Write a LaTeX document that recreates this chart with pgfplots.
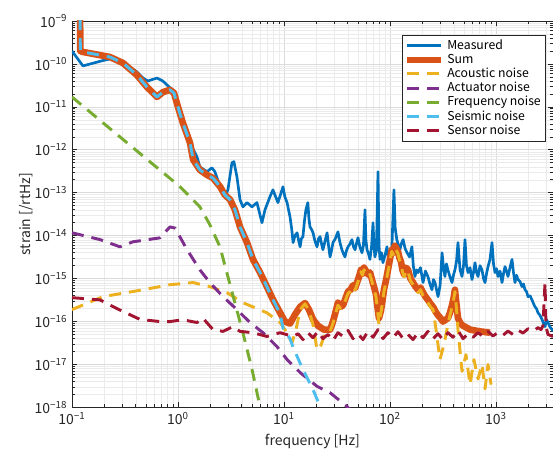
\documentclass[border=0pt]{standalone}
\usepackage{fontspec}
\setmainfont{Noto Sans CJK JP}
\newfontfamily\minusfont{Noto Sans}
\newcommand{\mm}{{\minusfont −}}
\usepackage{pgfplots}
\pgfplotsset{compat=1.18}
\definecolor{mblue}{rgb}{0,0.447,0.741}
\definecolor{morange}{rgb}{0.85,0.325,0.098}
\definecolor{myellow}{rgb}{0.929,0.694,0.125}
\definecolor{mpurple}{rgb}{0.494,0.184,0.556}
\definecolor{mgreen}{rgb}{0.466,0.674,0.188}
\definecolor{mcyan}{rgb}{0.301,0.745,0.933}
\definecolor{mred}{rgb}{0.635,0.078,0.184}
\definecolor{maxis}{rgb}{0.15,0.15,0.15}
\begin{document}
\begin{tikzpicture}
\begin{axis}[
  xmode=log, ymode=log,
  scale only axis, width=361pt, height=290pt,
  xmin=0.1, xmax=3450, ymin=1e-18, ymax=1e-9,
  xtick={0.1,1,10,100,1000},
  xticklabels={10\textsuperscript{\mm1},10\textsuperscript{0},10\textsuperscript{1},10\textsuperscript{2},10\textsuperscript{3}},
  minor xtick={0.2,0.3,0.4,0.5,0.6,0.7,0.8,0.9,2,3,4,5,6,7,8,9,20,30,40,50,60,70,80,90,200,300,400,500,600,700,800,900,2000,3000},
  ytick={1e-18,1e-17,1e-16,1e-15,1e-14,1e-13,1e-12,1e-11,1e-10,1e-9},
  yticklabels={10\textsuperscript{\mm18},10\textsuperscript{\mm17},10\textsuperscript{\mm16},10\textsuperscript{\mm15},10\textsuperscript{\mm14},10\textsuperscript{\mm13},10\textsuperscript{\mm12},10\textsuperscript{\mm11},10\textsuperscript{\mm10},10\textsuperscript{\mm9}},
  minor ytick={2e-18,3e-18,4e-18,5e-18,6e-18,7e-18,8e-18,9e-18,
    2e-17,3e-17,4e-17,5e-17,6e-17,7e-17,8e-17,9e-17,
    2e-16,3e-16,4e-16,5e-16,6e-16,7e-16,8e-16,9e-16,
    2e-15,3e-15,4e-15,5e-15,6e-15,7e-15,8e-15,9e-15,
    2e-14,3e-14,4e-14,5e-14,6e-14,7e-14,8e-14,9e-14,
    2e-13,3e-13,4e-13,5e-13,6e-13,7e-13,8e-13,9e-13,
    2e-12,3e-12,4e-12,5e-12,6e-12,7e-12,8e-12,9e-12,
    2e-11,3e-11,4e-11,5e-11,6e-11,7e-11,8e-11,9e-11,
    2e-10,3e-10,4e-10,5e-10,6e-10,7e-10,8e-10,9e-10},
  grid=both,
  major grid style={draw=black!14, line width=0.5pt},
  minor grid style={draw=black!8, line width=0.4pt},
  tick align=inside,
  major tick length=4pt, minor tick length=2.2pt,
  axis line style={maxis, line width=0.5pt},
  tick style={maxis, line width=0.5pt},
  every tick label/.append style={font=\fontsize{10.5}{12}\selectfont, text=maxis},
  xlabel={frequency [Hz]}, ylabel={strain [/rtHz]},
  ylabel shift=-6pt,
  label style={font=\fontsize{10.5}{12}\selectfont, text=maxis},
  legend style={at={(0.985,0.964)}, anchor=north east,
    font=\fontsize{9.2}{11}\selectfont, draw=maxis, fill=white,
    inner sep=1.5pt, row sep=-2pt, line width=0.5pt},
  legend cell align=left,
  legend image code/.code={\draw[#1] (0cm,0cm) -- (0.9cm,0cm);},
  every axis plot/.append style={line join=round},
]
\coordinate (sw) at (rel axis cs:0,0);
\coordinate (ne) at (rel axis cs:1,1);
% Measured
\addplot[mblue, line width=2pt] coordinates {
(0.1,2.0e-10)(0.127,9.0e-11)(0.196,1.2e-10)(0.228,1.3e-10)(0.284,1.1e-10)(0.352,8.5e-11)
(0.41,6.5e-11)(0.468,4.7e-11)(0.52,4.0e-11)(0.634,4.7e-11)(0.72,4.0e-11)(0.84,2.8e-11)
(0.94,2.2e-11)(1.0,1.1e-11)(1.11,4.3e-12)(1.30,1.45e-12)(1.51,6.9e-13)(1.61,4.0e-13)
(1.88,3.1e-13)(2.09,3.8e-13)(2.23,3.1e-13)(2.49,1.38e-13)(2.77,8.1e-14)(2.96,1.17e-13)
(3.23,5.0e-13)(3.37,5.3e-13)(3.60,2.35e-13)(3.85,6.9e-14)(4.10,4.7e-14)(4.48,5.9e-14)
(4.99,4.7e-14)(5.56,5.9e-14)(6.20,2.0e-14)(6.62,4.0e-14)(7.38,8.1e-14)(7.87,1.17e-13)
(8.77,5.9e-14)(9.79,1.38e-13)(10.2,8e-14)(10.7,5.9e-14)(11.0,4.2e-14)(11.4,2.75e-14)
(11.8,1.5e-14)(12.2,6.9e-15)(12.7,1.0e-14)(13.3,1.17e-14)(13.7,8e-15)(14.2,5.5e-15)
(14.6,8.5e-15)(15.1,9.5e-15)(15.6,2.2e-14)(16.1,4.0e-14)(16.8,5.9e-14)(17.2,2.5e-14)
(17.6,1.6e-14)(18.2,1.4e-14)(18.8,1.17e-14)(19.6,7.5e-15)(20.5,5.5e-15)(21.2,8.5e-15)
(21.9,9.5e-15)(22.6,6.5e-15)(23.3,4.7e-15)(24.4,7.5e-15)(25.5,1.17e-14)(26.3,6.0e-15)
(27.2,3.2e-15)(28.1,4.5e-15)(29.0,6.9e-15)(30.5,8.5e-15)(32.3,1.23e-14)(33.7,7.0e-15)
(35.2,4.7e-15)(36.4,3.8e-15)(37.6,3.2e-15)(38.9,4.5e-15)(40.2,5.5e-15)(42.0,6.5e-15)
(43.8,8.1e-15)(45.3,5.5e-15)(46.8,4.7e-15)(48.3,6.5e-15)(49.9,9.0e-15)(52.0,5.5e-15)
(54.4,4.0e-15)(56.2,6.0e-15)(58.1,4.0e-14)(59.3,8e-15)(60.7,4.7e-15)(62.7,3.8e-15)
(64.7,2.8e-15)(67.0,5.5e-15)(69.2,2.0e-14)(70.6,6e-15)(72.1,3.2e-15)(74.5,4.5e-15)
(77.1,3.1e-13)(78.8,6e-15)(80.5,2.8e-15)(83.2,4.0e-15)(85.9,2.35e-15)(89.7,3.5e-15)
(93.7,5.5e-15)(96.8,3.0e-15)(100,1.9e-15)(104,4.5e-15)(109,1.17e-13)(112,1.5e-14)
(116,8.1e-15)(120,6.0e-15)(124,4.7e-15)(128,6.5e-15)(133,8.1e-15)(139,5.0e-15)
(145,4.0e-15)(153,3.2e-15)(161,5.5e-15)(166,2.0e-15)(172,1.12e-15)(178,1.6e-15)
(184,1.38e-15)(194,1.8e-15)(205,8.1e-16)(216,1.5e-15)(228,1.12e-15)(238,7.5e-16)
(249,5.5e-16)(257,9.5e-16)(266,8.1e-16)(275,5.5e-16)(284,3.8e-16)(297,7e-16)
(310,4.0e-15)(320,1.8e-15)(330,1.12e-15)(341,2.2e-15)(352,1.6e-15)(368,1.1e-15)
(385,8.1e-16)(397,1.2e-15)(410,1.6e-15)(424,2.5e-15)(438,6.9e-15)(458,1.6e-15)
(478,1.12e-15)(494,2.0e-15)(510,8.1e-15)(527,2.0e-15)(545,1.38e-15)(569,1.8e-15)
(594,9.5e-16)(614,1.4e-15)(634,2.35e-15)(655,1.4e-15)(677,1.12e-15)(707,2.0e-15)
(738,1.6e-15)(763,1.0e-15)(788,8.1e-16)(814,1.3e-15)(841,1.9e-15)(878,2.8e-15)
(917,6.9e-15)(948,2.2e-15)(979,1.38e-15)(1012,1.7e-15)(1045,1.12e-15)(1092,1.5e-15)
(1140,8.1e-16)(1177,1.3e-15)(1216,1.9e-15)(1257,1.5e-15)(1298,1.12e-15)(1356,1.8e-15)
(1416,2.8e-15)(1462,1.4e-15)(1511,8.1e-16)(1562,1.2e-15)(1614,9.5e-16)(1687,8.5e-16)
(1760,6.5e-16)(1818,7.5e-16)(1878,5.5e-16)(1940,5.0e-16)(2005,3.8e-16)(2094,4.0e-16)
(2187,3.2e-16)(2260,2.6e-16)(2335,2.2e-16)(2410,2.0e-16)(2491,1.6e-16)(2600,1.4e-16)
(2718,1.12e-16)(2810,9e-17)(2900,7.6e-17)(3000,1.1e-16)(3096,9.5e-17)(3230,7.5e-17)
(3377,6.5e-17)(3450,6.0e-17)
};
% Sum
\addplot[morange, line width=5pt] coordinates {
(0.1185,1e-8)(0.120,2.0e-10)(0.127,1.9e-10)(0.228,1.45e-10)(0.303,1.05e-10)(0.41,5.5e-11)
(0.51,2.9e-11)(0.634,1.7e-11)(0.72,2.2e-11)(0.84,2.5e-11)(0.917,2.1e-11)(1.0,1.0e-11)
(1.11,4.3e-12)(1.30,1.45e-12)(1.39,5.9e-13)(1.61,3.4e-13)(1.88,2.6e-13)(2.14,2.2e-13)
(2.49,1.4e-13)(2.77,8.9e-14)(3.1,6.9e-14)(3.45,4.0e-14)(3.85,1.6e-14)(4.48,6.9e-15)
(5.1,2.8e-15)(5.94,1.4e-15)(6.9,6.5e-16)(7.9,3.2e-16)(9.2,1.6e-16)(10.2,1.0e-16)
(11.4,9.0e-17)(12.7,1.45e-16)(14.2,2.2e-16)(15.8,2.7e-16)(17.2,1.9e-16)(18.8,1.12e-16)
(20.9,8.0e-17)(23.8,6.5e-17)(27.2,6.5e-17)(28.4,8.5e-17)(29.6,1.2e-16)(30.9,1.8e-16)
(32.3,2.75e-16)(34.2,2.2e-16)(36.1,2.4e-16)(38.1,3.5e-16)(40.2,5.0e-16)(42.4,5.5e-16)
(44.8,7.0e-16)(46.8,6.0e-16)(48.9,8.1e-16)(51.0,1.1e-15)(53.2,1.6e-15)(55.0,1.3e-15)
(56.9,1.8e-15)(59.4,1.5e-15)(62.0,1.25e-15)(64.8,1.4e-15)(67.6,9.5e-16)(70.6,6.5e-16)
(73.8,4.3e-16)(76.2,2.2e-16)(78.7,1.2e-16)(82.2,1.8e-16)(84.9,3.0e-16)(87.7,5.5e-16)
(91.6,9e-16)(95.7,1.6e-15)(99.8,2.8e-15)(104,4.7e-15)(107,4.0e-15)(111,5.8e-15)
(115,5.0e-15)(119,4.3e-15)(123,3.0e-15)(127,2.5e-15)(131,1.6e-15)(136,1.25e-15)
(142,1.8e-15)(148,1.6e-15)(156,1.0e-15)(165,8.1e-16)(174,6.5e-16)(184,5.5e-16)
(194,6.2e-16)(205,4.7e-16)(216,3.8e-16)(228,3.2e-16)(241,2.6e-16)(255,2.2e-16)
(269,1.7e-16)(284,1.4e-16)(300,1.2e-16)(316,1.0e-16)(334,1.1e-16)(352,1.2e-16)
(368,1.6e-16)(385,2.4e-16)(398,3.5e-16)(410,5.5e-16)(424,2.5e-16)(438,1.2e-16)
(463,9.0e-17)(489,8.0e-17)(569,6.5e-17)(706,5.9e-17)(877,5.5e-17)
};
% Acoustic
\addplot[myellow, line width=2.2pt, dash pattern=on 9pt off 6pt] coordinates {
(0.1,1.9e-16)(0.196,3.8e-16)(0.468,5.5e-16)(0.84,7.2e-16)(1.39,8.1e-16)(2.0,6.5e-16)
(2.9,4.7e-16)(4.1,2.75e-16)(6.9,1.6e-16)(9.2,9.5e-17)(10.2,6.5e-17)(11.9,3.2e-17)
(13.0,6.5e-17)(14.2,1.9e-16)(15.8,2.6e-16)(17.2,1.8e-16)(18.8,8.5e-17)(20.5,2.2e-17)
(22.3,2.8e-17)(24.9,5.9e-17)(27.2,6.0e-17)(28.4,7.8e-17)(29.6,1.1e-16)(30.9,1.6e-16)
(32.3,2.4e-16)(34.2,2.0e-16)(36.1,2.2e-16)(38.1,3.2e-16)(40.2,4.5e-16)(42.4,5.0e-16)
(44.8,6.5e-16)(46.8,5.4e-16)(48.9,7.2e-16)(51.0,1.0e-15)(53.2,1.45e-15)(55.0,1.2e-15)
(56.9,1.6e-15)(59.4,1.35e-15)(62.0,1.1e-15)(64.8,1.25e-15)(67.6,8.5e-16)(70.6,5.8e-16)
(73.8,3.8e-16)(76.2,1.9e-16)(78.7,8.5e-17)(82.2,1.6e-16)(84.9,2.7e-16)(87.7,5.0e-16)
(91.6,8.2e-16)(95.7,1.45e-15)(99.8,2.5e-15)(104,4.3e-15)(107,3.6e-15)(111,5.2e-15)
(115,4.5e-15)(119,3.8e-15)(123,2.7e-15)(127,2.2e-15)(131,1.45e-15)(136,1.1e-15)
(142,1.6e-15)(148,1.45e-15)(156,9e-16)(165,7.2e-16)(174,5.8e-16)(184,4.7e-16)
(194,5.5e-16)(205,4.0e-16)(216,3.3e-16)(228,2.75e-16)(241,2.2e-16)(255,1.9e-16)
(272,6.5e-17)(296,1.3e-17)(323,2.9e-17)(352,8.5e-17)(368,1.4e-16)(385,2.2e-16)
(398,3.2e-16)(410,5.0e-16)(424,2.0e-16)(438,6.5e-17)(478,6.9e-18)(521,1.7e-17)
(569,3.4e-18)(620,1.3e-17)(677,4.6e-18)(738,1.0e-17)(788,2.7e-18)(841,1.0e-17)
(898,3.4e-18)
};
% Actuator
\addplot[mpurple, line width=2.2pt, dash pattern=on 9pt off 6pt] coordinates {
(0.1,1.17e-14)(0.184,8.1e-15)(0.284,5.5e-15)(0.376,7.2e-15)(0.676,8.9e-15)(0.84,1.6e-14)
(0.94,1.5e-14)(1.04,9.5e-15)(1.22,4.7e-15)(1.61,1.6e-15)(2.0,8.1e-16)(2.66,3.8e-16)
(3.6,1.9e-16)(4.78,9.5e-17)(6.34,5.5e-17)(8.6,2.6e-17)(10.7,1.3e-17)(14.2,6.5e-18)
(20.5,3.1e-18)(27.2,2.2e-18)(39.3,1.05e-18)(43.8,8e-19)
};
% Frequency
\addplot[mgreen, line width=2.2pt, dash pattern=on 9pt off 6pt] coordinates {
(0.1,1.7e-11)(0.316,1.6e-12)(1.04,1.4e-13)(1.61,4.7e-14)(2.0,1.8e-14)(2.49,5.5e-15)
(3.1,7.2e-16)(4.1,5.5e-17)(5.0,7.6e-18)(5.94,1.05e-18)(6.2,7e-19)
};
% Seismic
\addplot[mcyan, line width=2.2pt, dash pattern=on 9pt off 6pt] coordinates {
(0.1185,1e-8)(0.120,2.0e-10)(0.127,1.9e-10)(0.228,1.45e-10)(0.303,1.05e-10)(0.41,5.5e-11)
(0.51,2.9e-11)(0.634,1.7e-11)(0.72,2.2e-11)(0.84,2.5e-11)(0.917,2.1e-11)(1.0,1.0e-11)
(1.11,4.3e-12)(1.30,1.45e-12)(1.39,5.9e-13)(1.61,3.4e-13)(1.88,2.6e-13)(2.14,2.2e-13)
(2.49,1.4e-13)(2.77,8.9e-14)(3.1,6.9e-14)(3.45,4.0e-14)(3.85,1.6e-14)(4.48,6.9e-15)
(5.1,2.8e-15)(5.94,1.4e-15)(6.9,6.5e-16)(7.9,3.2e-16)(9.2,1.5e-16)(9.8,7e-17)
(11.4,4e-17)(12.2,2.5e-17)(15.1,7.6e-18)(18.8,2.6e-18)(21.9,1.05e-18)(24.4,5e-19)
};
% Sensor
\addplot[mred, line width=2.2pt, dash pattern=on 9pt off 6pt] coordinates {
(0.1,3.6e-16)(0.184,3.2e-16)(0.266,2.0e-16)(0.439,1.12e-16)(0.676,1.0e-16)(0.84,1.0e-16)
(1.11,1.1e-16)(1.51,9.5e-17)(1.72,1.2e-16)(2.14,6.5e-17)(2.66,5.9e-17)(3.3,7.6e-17)
(3.85,5.9e-17)(5.1,5.5e-17)(6.9,4.5e-17)(9.2,5.5e-17)(12.2,4.5e-17)
(13.6,5.2e-17)(15.1,3.8e-17)(16.8,5.5e-17)(18.8,4.2e-17)(20.9,5.9e-17)(23.3,4.0e-17)
(26.0,5.0e-17)(29.0,3.6e-17)(32.3,5.5e-17)(36.1,4.5e-17)(40.2,6.2e-17)(44.8,4.0e-17)
(49.9,5.2e-17)(55.6,3.8e-17)(62.0,5.9e-17)(69.2,4.3e-17)(77.1,6.5e-17)(85.9,4.0e-17)
(95.7,5.5e-17)(107,4.2e-17)(119,5.8e-17)(133,4.0e-17)(148,5.0e-17)(165,3.8e-17)
(184,5.5e-17)(205,4.2e-17)(228,5.9e-17)(255,4.0e-17)(284,5.2e-17)(316,3.8e-17)
(352,5.5e-17)(393,4.3e-17)(438,6.2e-17)(489,4.0e-17)(545,5.2e-17)(607,4.3e-17)
(677,5.5e-17)(754,4.5e-17)(841,5.9e-17)(937,4.6e-17)(1045,5.6e-17)(1165,4.8e-17)
(1298,6.0e-17)(1446,5.0e-17)(1614,6.3e-17)(1799,5.4e-17)(2005,6.8e-17)(2235,6.0e-17)
(2491,7.2e-17)(2660,6.5e-17)(2775,8.0e-17)(2900,8.0e-16)(2965,7.5e-17)(3096,5.0e-17)
(3450,4.5e-17)
};
\legend{Measured,Sum,Acoustic noise,Actuator noise,Frequency noise,Seismic noise,Sensor noise}
\end{axis}
\pgfresetboundingbox
\path ([xshift=-54pt,yshift=-33pt]sw) rectangle ([yshift=15.75pt]ne);
\end{tikzpicture}
\end{document}
